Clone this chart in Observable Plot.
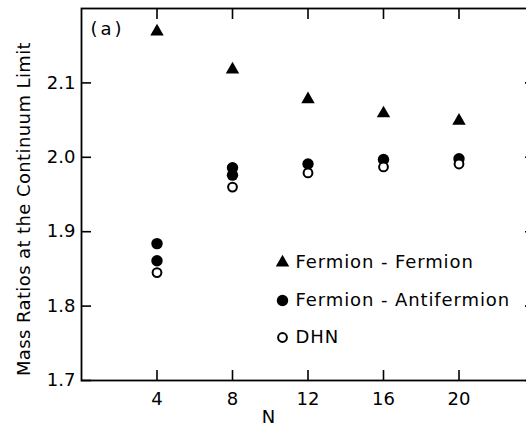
<!DOCTYPE html>
<html><head><meta charset="utf-8">
<script src="https://cdn.jsdelivr.net/npm/d3@7"></script>
<script src="https://cdn.jsdelivr.net/npm/@observablehq/plot@0.6"></script>
<style>
html,body{margin:0;padding:0;background:#fff;overflow:hidden;}
</style></head><body><div id="chart"></div>
<script>
const N = [4, 8, 12, 16, 20];
const fermionFermion = [2.169, 2.118, 2.078, 2.059, 2.049];
const antiN = [4, 4, 8, 8, 12, 16, 20];
const fermionAntifermion = [1.884, 1.861, 1.986, 1.976, 1.991, 1.997, 1.998];
const dhn = [1.845, 1.960, 1.979, 1.987, 1.991];
const yTicks = [1.7, 1.8, 1.9, 2.0, 2.1];
const xTicks = [4, 8, 12, 16, 20];
const legendLabels = ["Fermion - Fermion", "Fermion - Antifermion", "DHN"];
const yTitle = "Mass Ratios at the Continuum Limit";
const xTitle = "N";
const panelLabel = "(a)";

const ff = N.map((n, i) => ({n, v: fermionFermion[i]}));
const fa = antiN.map((n, i) => ({n, v: fermionAntifermion[i]}));
const dh = N.map((n, i) => ({n, v: dhn[i]}));

const legendDy = [254, 292, 329];
const legendSym = [
  {symbol: "triangle", fill: "black", stroke: "none", r: 5},
  {symbol: "circle", fill: "black", stroke: "none", r: 5.7},
  {symbol: "circle", fill: "white", stroke: "black", r: 4.4, strokeWidth: 2}
];

const chart = Plot.plot({
  width: 545,
  height: 430,
  marginLeft: 81,
  marginRight: 11,
  marginTop: 8,
  marginBottom: 50,
  style: {fontFamily: "'DejaVu Sans', sans-serif", fontSize: "18px", color: "black", background: "white", maxWidth: "none"},
  x: {domain: [0, 24]},
  y: {domain: [1.7, 2.2]},
  marks: [
    Plot.frame({stroke: "black", strokeWidth: 1.8}),
    Plot.axisX({anchor: "bottom", ticks: xTicks, tickSize: -10, tickPadding: 22, strokeWidth: 1.6, label: null, tickFormat: d => String(d)}),
    Plot.axisX({anchor: "top", ticks: xTicks, tickSize: -10, tickFormat: () => "", strokeWidth: 1.6, label: null}),
    Plot.axisY({anchor: "left", ticks: yTicks, tickSize: -10, tickPadding: 16, strokeWidth: 1.6, label: null, tickFormat: d3.format(".1f")}),
    Plot.axisY({anchor: "right", ticks: yTicks, tickSize: -10, tickFormat: () => "", strokeWidth: 1.6, label: null}),
    Plot.dot(ff, {x: "n", y: "v", symbol: "triangle", fill: "black", r: 5}),
    Plot.dot(fa, {x: "n", y: "v", symbol: "circle", fill: "black", r: 5.7}),
    Plot.dot(dh, {x: "n", y: "v", symbol: "circle", fill: "white", stroke: "black", strokeWidth: 2, r: 4.4}),
    ...legendLabels.map((lab, i) => Plot.dot([lab], {frameAnchor: "top-left", dx: 201, dy: legendDy[i], ...legendSym[i]})),
    ...legendLabels.map((lab, i) => Plot.text([lab], {text: d => d, frameAnchor: "top-left", dx: 214, dy: legendDy[i], textAnchor: "start", lineAnchor: "middle", fontSize: 18})),
    Plot.text([panelLabel], {text: d => d, frameAnchor: "top-left", dx: 9, dy: 21, textAnchor: "start", lineAnchor: "middle", fontSize: 18}),
    Plot.text([xTitle], {text: d => d, frameAnchor: "bottom", dx: -39.5, dy: 37, textAnchor: "middle", lineAnchor: "middle", fontSize: 18}),
    Plot.text([yTitle], {text: d => d, frameAnchor: "left", dx: -57.5, dy: 14.5, rotate: -90, textAnchor: "middle", lineAnchor: "middle", fontSize: 18})
  ]
});
const texts = d3.select(chart).selectAll("text");
texts.filter(function() { return legendLabels.includes(this.textContent); }).style("letter-spacing", "0.9px");
texts.filter(function() { return this.textContent === yTitle; }).style("letter-spacing", "0.4px");
texts.filter(function() { return this.textContent === panelLabel; }).style("letter-spacing", "3px");
document.getElementById("chart").appendChild(chart);
</script></body></html>
